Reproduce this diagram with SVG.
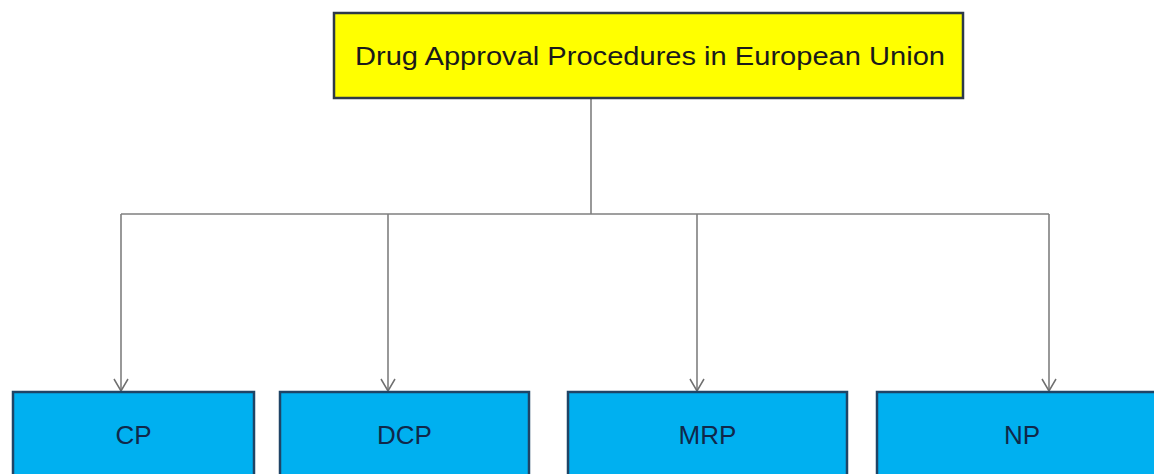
<svg xmlns="http://www.w3.org/2000/svg" width="1154" height="474" viewBox="0 0 1154 474">
  <defs>
    <style>
      .top { fill: #FFFF00; stroke: #2E3A48; stroke-width: 2.5; }
      .box { fill: #00B0F0; stroke: #1F4466; stroke-width: 2.5; }
      .title { font-family: "Liberation Sans", Arial, sans-serif; font-size: 25px; fill: #1A1A1A; }
      .label { font-family: "Liberation Sans", Arial, sans-serif; font-size: 26px; fill: #10284A; text-anchor: middle; }
      .conn { fill: none; stroke: #7F7F7F; stroke-width: 1.6; }
    </style>
    <marker id="arrow" markerWidth="16" markerHeight="16" refX="14" refY="8" orient="auto" markerUnits="userSpaceOnUse" viewBox="0 0 16 16">
      <path d="M2,1 L14,8 L2,15" fill="none" stroke="#6F6F6F" stroke-width="1.5"/>
    </marker>
  </defs>
  <rect width="1154" height="474" fill="#FFFFFF"/>

  <g id="connectors">
    <path class="conn" d="M591,98 L591,214"/>
    <path class="conn" d="M121,214 L1049,214"/>
    <path class="conn" d="M121,214 L121,391" marker-end="url(#arrow)"/>
    <path class="conn" d="M388,214 L388,391" marker-end="url(#arrow)"/>
    <path class="conn" d="M697,214 L697,391" marker-end="url(#arrow)"/>
    <path class="conn" d="M1049,214 L1049,391" marker-end="url(#arrow)"/>
  </g>

  <g id="node-root">
    <rect class="top" x="334" y="13" width="629" height="85"/>
    <text class="title" x="355" y="65" textLength="590" lengthAdjust="spacingAndGlyphs">Drug Approval Procedures in European Union</text>
  </g>

  <g id="node-cp">
    <rect class="box" x="13" y="392" width="241" height="100"/>
    <text class="label" x="133.5" y="444">CP</text>
  </g>

  <g id="node-dcp">
    <rect class="box" x="280" y="392" width="249" height="100"/>
    <text class="label" x="404.5" y="444">DCP</text>
  </g>

  <g id="node-mrp">
    <rect class="box" x="568" y="392" width="279" height="100"/>
    <text class="label" x="707.5" y="444">MRP</text>
  </g>

  <g id="node-np">
    <rect class="box" x="877" y="392" width="290" height="100"/>
    <text class="label" x="1022" y="444">NP</text>
  </g>
</svg>
